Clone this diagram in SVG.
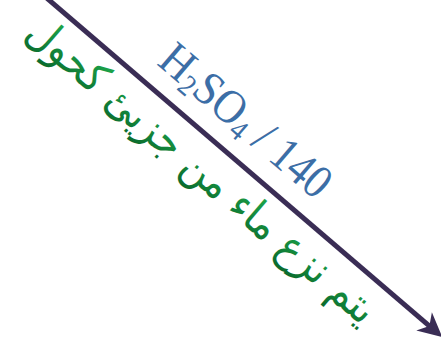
<svg xmlns="http://www.w3.org/2000/svg" width="441" height="343" viewBox="0 0 441 343">
<defs>
<linearGradient id="g" x1="0" y1="0" x2="0" y2="1">
<stop offset="0" stop-color="#1fae4f"/>
<stop offset="1" stop-color="#0a6a2d"/>
</linearGradient>
</defs>
<style>
.conn{stroke:#3a2d55;stroke-width:5;fill:none}
.head{fill:#3a2d55}
.chem{font-family:"Liberation Serif",serif;font-size:48px;fill:#3c6ea6}
.sub{font-size:30px}
.ar{font-family:"DejaVu Sans",sans-serif;font-size:44px;fill:url(#g)}
</style>
<rect width="441" height="343" fill="#ffffff"/>
<g id="connectors" transform="translate(49,0) rotate(40.6)">
<line x1="-10" y1="0" x2="505" y2="0" class="conn"/>
<path d="M518,0 L494,-12 L501,0 L494,12 Z" class="head"/>
</g>
<g id="label-reagent" transform="translate(49,0) rotate(40.6)">
<text class="chem" x="123" y="-21" textLength="210" lengthAdjust="spacingAndGlyphs">H<tspan class="sub" dy="6">2</tspan><tspan dy="-6">SO</tspan><tspan class="sub" dy="6">4</tspan><tspan dy="-6"> / 140</tspan></text>
</g>
<g id="label-arabic" transform="translate(49,0) rotate(40.6)">
<text class="ar" x="227" y="44" text-anchor="middle" direction="rtl" textLength="446" lengthAdjust="spacingAndGlyphs">يتم نزع ماء من جزيئ كحول</text>
</g>
</svg>
